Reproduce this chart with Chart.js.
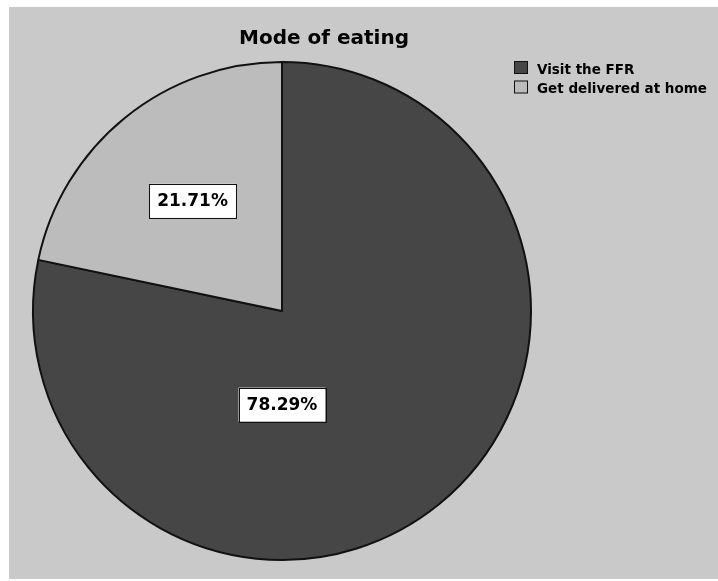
<!DOCTYPE html>
<html>
<head>
  <meta charset="UTF-8">
  <title>Mode of eating</title>
  <script src="https://cdn.jsdelivr.net/npm/chart.js"></script>
  <style>
    body { margin: 0; background: #ffffff; }
    .frame { position: absolute; left: 9px; top: 7px; width: 709px; height: 572px; background: #c9c9c9; }
  </style>
</head>
<body>
  <div class="frame">
    <canvas id="pieChart"></canvas>
  </div>

  <script>
    // data
    const categories = ['Visit the FFR', 'Get delivered at home'];
    const shares = [78.29, 21.71];
    const sliceColors = ['#464646', '#bcbcbc'];
    const chartTitle = 'Mode of eating';

    // where each value label sits: fraction of radius, shift from mid angle (deg)
    const labelRadius = [0.376, 0.57];
    const labelShift = [39.1, 0];

    const FONT = '"DejaVu Sans", sans-serif';

    const decor = {
      id: 'decor',
      afterDraw(chart) {
        const ctx = chart.ctx;
        ctx.save();

        // title
        ctx.fillStyle = '#000';
        ctx.font = 'bold 20px ' + FONT;
        ctx.textAlign = 'center';
        ctx.textBaseline = 'alphabetic';
        ctx.fillText(chartTitle, 315, 37);

        // legend
        ctx.font = 'bold 13.5px ' + FONT;
        ctx.textAlign = 'left';
        categories.forEach((c, i) => {
          const y = 54 + i * 19.5;
          ctx.fillStyle = sliceColors[i];
          ctx.fillRect(505, y, 14, 13);
          ctx.strokeStyle = '#111';
          ctx.lineWidth = 1;
          ctx.strokeRect(505.5, y + 0.5, 13, 12);
          ctx.fillStyle = '#000';
          ctx.fillText(c, 528, y + 12.5);
        });

        // value labels in white boxes
        const arcs = chart.getDatasetMeta(0).data;
        ctx.font = 'bold 17px ' + FONT;
        ctx.textAlign = 'center';
        ctx.textBaseline = 'middle';
        arcs.forEach((arc, i) => {
          const p = arc.getProps(['x', 'y', 'startAngle', 'endAngle', 'outerRadius'], true);
          const a = (p.startAngle + p.endAngle) / 2 + labelShift[i] * Math.PI / 180;
          const r = p.outerRadius * labelRadius[i];
          const cx = p.x + Math.cos(a) * r;
          const cy = p.y + Math.sin(a) * r;
          const txt = shares[i].toFixed(2) + '%';
          const w = ctx.measureText(txt).width + 16;
          const h = 34;
          ctx.fillStyle = '#ffffff';
          ctx.fillRect(cx - w / 2, cy - h / 2, w, h);
          ctx.strokeStyle = '#111';
          ctx.lineWidth = 1;
          ctx.strokeRect(Math.round(cx - w / 2) + 0.5, Math.round(cy - h / 2) + 0.5, Math.round(w), h);
          ctx.fillStyle = '#000';
          ctx.fillText(txt, cx, cy + 1);
        });

        ctx.restore();
      }
    };

    new Chart(document.getElementById('pieChart'), {
      type: 'pie',
      data: {
        labels: categories,
        datasets: [{
          data: shares,
          backgroundColor: sliceColors,
          borderColor: '#111111',
          borderWidth: 2
        }]
      },
      options: {
        responsive: true,
        maintainAspectRatio: false,
        animation: false,
        layout: { padding: { left: 23, right: 186, top: 54, bottom: 18 } },
        plugins: {
          legend: { display: false },
          title: { display: false },
          tooltip: { enabled: false }
        }
      },
      plugins: [decor]
    });
  </script>
</body>
</html>
